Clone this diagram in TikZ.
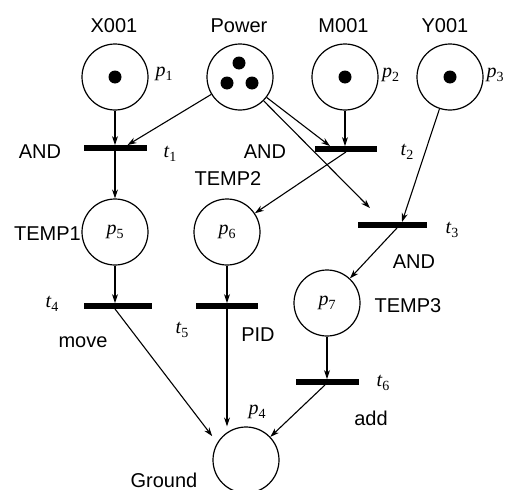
\documentclass[tikz,border=0pt]{standalone}
\usepackage{fontspec}
\setmainfont{Liberation Sans}
\newfontfamily\tms{Liberation Serif}
\newcommand{\pl}[2]{{\tms\itshape #1\raisebox{-0.22em}{\upshape\fontsize{14}{16}\selectfont #2}}}
\usetikzlibrary{arrows.meta}
\begin{document}
\begin{tikzpicture}[x=1pt,y=-1pt,
  place/.style={circle,draw,line width=1.2pt,minimum size=66pt,inner sep=0pt},
  trans/.style={fill=black,inner sep=0pt,minimum height=5.5pt},
  arr/.style={line width=1.1pt,-{Stealth[length=9pt,width=6pt]}},
  lbl/.style={inner sep=0pt,anchor=base},
  tok/.style={circle,fill=black,inner sep=0pt,minimum size=13pt},
  every node/.style={font=\fontsize{20}{24}\selectfont}]
\useasboundingbox (0,0) rectangle (512,490);
% places
\node[place] (p1) at (115,77) {};
\node[tok] (k1) at (p1) {};
\node[place] (pw) at (240,77) {};
\node[tok] (k2a) at (239,63) {};
\node[tok] (k2b) at (227,83) {};
\node[tok] (k2c) at (252,83) {};
\node[place] (p2) at (345,77) {};
\node[tok] (k3) at (p2) {};
\node[place] (p3) at (450,77) {};
\node[tok] (k4) at (p3) {};
\node[place] (p5) at (115,232) {\pl{p}{5}};
\node[place] (p6) at (227,232) {\pl{p}{6}};
\node[place] (p7) at (327,303) {\pl{p}{7}};
\node[place] (p4) at (246,460) {};
% transitions
\node[trans,minimum width=63pt] (t1) at (115.5,148) {};
\node[trans,minimum width=62pt] (t2) at (346,149) {};
\node[trans,minimum width=69pt] (t3) at (392.5,225) {};
\node[trans,minimum width=68pt] (t4) at (118,306) {};
\node[trans,minimum width=62pt] (t5) at (227,306) {};
\node[trans,minimum width=63pt] (t6) at (327.5,382) {};
% labels
\node[lbl] (lx) at (114,32) {X001};
\node[lbl] (lpw) at (239,32) {Power};
\node[lbl] (lm) at (343.5,32) {M001};
\node[lbl] (ly) at (445,32) {Y001};
\node[lbl] (lp1) at (164,76) {\pl{p}{1}};
\node[lbl] (lp2) at (390.5,77) {\pl{p}{2}};
\node[lbl] (lp3) at (495,77) {\pl{p}{3}};
\node[lbl] (lp4) at (257,414) {\pl{p}{4}};
\node[lbl] (lt1) at (170,157) {\pl{t}{1}};
\node[lbl] (lt2) at (407,155) {\pl{t}{2}};
\node[lbl] (lt3) at (452,233) {\pl{t}{3}};
\node[lbl] (lt4) at (52,307) {\pl{t}{4}};
\node[lbl] (lt5) at (182,333) {\pl{t}{5}};
\node[lbl] (lt6) at (383,386) {\pl{t}{6}};
\node[lbl] (and1) at (40,158) {AND};
\node[lbl] (and2) at (265,158) {AND};
\node[lbl] (temp2) at (228,185) {TEMP2};
\node[lbl,anchor=base east] (temp1) at (81,240) {TEMP1};
\node[lbl] (temp3) at (408,312) {TEMP3};
\node[lbl] (and3) at (414,268) {AND};
\node[lbl] (move) at (83,347) {move};
\node[lbl] (pid) at (258,341) {PID};
\node[lbl] (add) at (371,425) {add};
\node[lbl] (ground) at (164,487) {Ground};
% arcs
\draw[arr] (p1) -- (p1 |- t1.north);
\draw[arr] (pw) -- ([xshift=12pt]t1.north);
\draw[arr] (pw) -- ([xshift=-16pt]t2.north);
\draw[arr] (pw) -- ([xshift=-22.5pt,yshift=14pt]t3.north);
\draw[arr] (p2) -- (p2 |- t2.north);
\draw[arr] (p3) -- ([xshift=9.5pt]t3.north);
\draw[arr] (t1.south -| p5) -- (p5);
\draw[arr] (t2.south) -- (p6);
\draw[arr] ([xshift=4.5pt]t3.south) -- (p7);
\draw[arr] (p5) -- (p5 |- t4.north);
\draw[arr] (p6) -- (p6 |- t5.north);
\draw[arr] (p7) -- (p7 |- t6.north);
\draw[arr] ([xshift=-3pt]t4.south) -- ([xshift=-10pt]p4.north west);
\draw[arr] (t5.south) -- (t5.south |- p4.north);
\draw[arr] ([xshift=-2.5pt]t6.south) -- (p4);
\end{tikzpicture}
\end{document}
